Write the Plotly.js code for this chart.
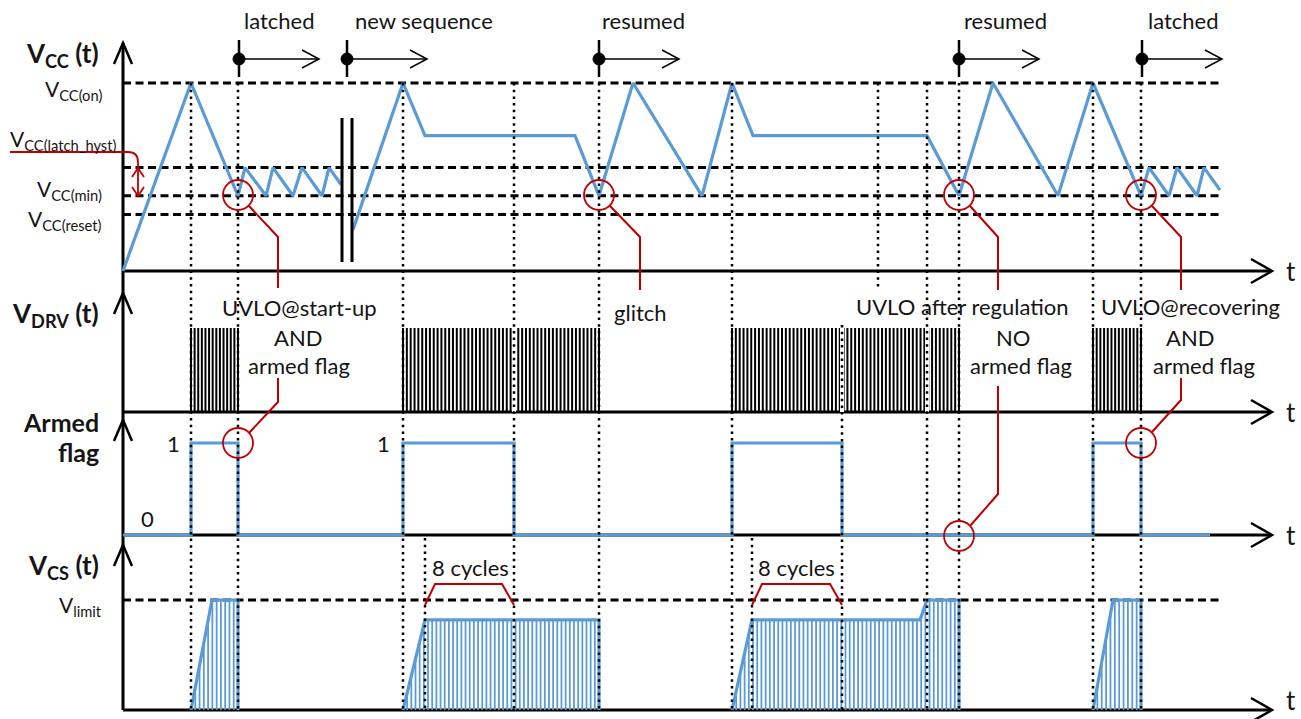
<!DOCTYPE html>
<html><head><meta charset="utf-8">
<script src="https://cdn.plot.ly/plotly-3.0.1.min.js"></script>
<style>html,body{margin:0;padding:0;background:#fff}#chart{width:1301px;height:719px}</style>
</head><body><div id="chart"></div>
<script>
// ================= DATA =================
// V_CC threshold levels (normalised volts)
const vccLevelLabels = ['V<sub>CC(on)</sub>', 'V<sub>CC(latch_hyst)</sub>', 'V<sub>CC(min)</sub>', 'V<sub>CC(reset)</sub>'];
const vccLevels = [10, 5.5, 4, 3];
// V_CC(t) waveform (time units, volts); null = axis break
const vccT = [0,68,115,122,143,150,170,179,199,206,218,null,230,280,302,452,476,510,579,609,630,804,836,870,935,970,1018,1026,1046,1054,1074,1081,1097];
const vccV = [0,10,4,5.5,4,5.5,4,5.5,4,5.5,4.6,null,2.2,10,7.2,7.2,4,10,4,10,7.2,7.2,4,10,4,10,4,5.5,4,5.5,4,5.5,4.3];
// V_DRV(t) switching bursts
const drvStart  = [68, 280, 609, 970];
const drvEnd    = [115, 476, 836, 1018];
const drvPulses = [14, 52, 60, 14];
// Armed flag (0/1)
const armedT = [0,68,68,115,115,280,280,391,391,609,609,719,719,970,970,1018,1018,1087];
const armedV = [0,0,1,1,0,0,1,1,0,0,1,1,0,0,1,1,0,0];
// V_CS(t) peak envelopes per burst (V_limit = 1)
const csEnvT = [[68,89,115],[280,302,476],[609,629,797,804,836],[970,990,1018]];
const csEnvV = [[0,1,1],[0,0.82,0.82],[0,0.82,0.82,1,1],[0,1,1]];
const csCycles = [11, 47, 54, 11];
const vLimit = 1;
// time markers
const guideT = [68,115,280,391,476,609,755,719,804,836,970,1018];
const cycleMarkT = [302, 629];
const eventLabels = ['latched','new sequence','resumed','resumed','latched'];
const eventT = [116, 224, 476, 836, 1019];

// ================= LAYOUT HELPERS =================
const W = 1301, H = 719, T0 = 123;
const BLUE = '#5B9BD5', RED = '#C00000', INK = '#151515';
const FONT = 'Lato, "Open Sans", sans-serif';
function rng(py0, k) { return [-(H - py0) / k, py0 / k]; }

const DASH = {color:'#000', width:3, dash:'8px,4.5px'};
const traces = [];
// dashed level lines
vccLevels.forEach(lv => traces.push({x:[0,1099], y:[lv,lv], xaxis:'x', yaxis:'y', mode:'lines', line:DASH, hoverinfo:'skip'}));
traces.push({x:vccT, y:vccV, xaxis:'x', yaxis:'y', mode:'lines', line:{color:BLUE, width:3.2}, connectgaps:false, hoverinfo:'skip'});

// V_DRV pulses
{
  const xs = [], ys = [];
  drvStart.forEach((s, i) => {
    const n = drvPulses[i], step = (drvEnd[i] - s) / (n - 1);
    for (let j = 0; j < n; j++) { const t = s + j * step; xs.push(t, t, null); ys.push(0, 1, null); }
  });
  traces.push({x:xs, y:ys, xaxis:'x', yaxis:'y2', mode:'lines', line:{color:'#000', width:2}, hoverinfo:'skip'});
}
// Armed flag
traces.push({x:armedT, y:armedV, xaxis:'x', yaxis:'y3', mode:'lines', line:{color:BLUE, width:3.2}, hoverinfo:'skip'});

// V_CS
traces.push({x:[0,1099], y:[vLimit,vLimit], xaxis:'x', yaxis:'y4', mode:'lines', line:DASH, hoverinfo:'skip'});
function interp(ts, vs, t) {
  for (let i = 0; i < ts.length - 1; i++) if (t >= ts[i] && t <= ts[i+1]) return vs[i] + (vs[i+1]-vs[i]) * (t - ts[i]) / (ts[i+1] - ts[i]);
  return vs[vs.length-1];
}
{
  const xs = [], ys = [], ex = [], ey = [];
  csEnvT.forEach((ts, i) => {
    const vs = csEnvV[i], n = csCycles[i], s = ts[0], e = ts[ts.length-1], step = (e - s) / n;
    for (let j = 1; j <= n; j++) { const t = s + j * step; xs.push(t, t, null); ys.push(0, interp(ts, vs, t), null); }
    ts.forEach((t, k) => { ex.push(t); ey.push(vs[k]); });
    ex.push(e, null); ey.push(0, null);
  });
  traces.push({x:xs, y:ys, xaxis:'x', yaxis:'y4', mode:'lines', line:{color:BLUE, width:1.8}, hoverinfo:'skip'});
  traces.push({x:ex, y:ey, xaxis:'x', yaxis:'y4', mode:'lines', line:{color:BLUE, width:3.2}, hoverinfo:'skip'});
}
traces.push({x:[0], y:[0], xaxis:'x2', yaxis:'y5', mode:'markers', marker:{opacity:0}, hoverinfo:'skip'});

// ================= SHAPES (pixel space: x2 / y5) =================
const shapes = [];
const L = (x0,y0,x1,y1,color,width,layer,dash) => shapes.push({type:'line', xref:'x2', yref:'y5', x0,y0,x1,y1, layer:layer||'below', line:{color, width, dash:dash||'solid'}});
const P = (path,color,width,layer) => shapes.push({type:'path', xref:'x2', yref:'y5', path, layer:layer||'above', line:{color, width}});
const C = (cx,cy,r,color,width,fill) => shapes.push({type:'circle', xref:'x2', yref:'y5', x0:cx-r, y0:cy-r, x1:cx+r, y1:cy+r, layer:'above', line:{color, width}, fillcolor:fill||'rgba(0,0,0,0)'});
// axes
L(123,43,123,710,'#000',3);
[271,412,535,710].forEach(y => { L(123,y,1270,y,'#000',3); P(`M 1251 ${y-12} L 1272 ${y} L 1251 ${y+12}`,'#000',2.5,'below'); });
[43,293,420,545].forEach(y => P(`M 114 ${y+21} L 123 ${y} L 132 ${y+21}`,'#000',2.5,'below'));
// break
L(342,118,342,262,'#000',3,'above'); L(352,118,352,262,'#000',3,'above');
// white gaps where guides cross dense bursts
[391,719,804].forEach(t => shapes.push({type:'line', xref:'x', yref:'y5', x0:t, x1:t, y0:328, y1:412, layer:'above', line:{color:'#fff', width:4}}));
// dotted guides
const DOT = {color:'#000', width:2.5, dash:'2.5px,4.2px'};
guideT.forEach(t => {
  let y0 = 83, y1 = 710;
  if (t === 755) y1 = 290;
  if (t === 719) y0 = 325;
  shapes.push({type:'line', xref:'x', yref:'y5', x0:t, x1:t, y0, y1, layer:'above', line:DOT});
});
cycleMarkT.forEach(t => shapes.push({type:'line', xref:'x', yref:'y5', x0:t, x1:t, y0:538, y1:710, layer:'above', line:DOT}));
// event markers on top
eventT.forEach(t => {
  const x = t + T0;
  L(x,40,x,77,'#000',2.5,'above');
  L(x,59,x+80,59,'#000',1.5,'above');
  P(`M ${x+63} 50 L ${x+80} 59 L ${x+63} 68`,'#000',1.5);
  C(x,59,6,'#000',1,'#000');
});
// red annotations
P('M 10 152 L 128 152 Q 138 152 138 162 L 138 196',RED,1.8);
P('M 132 177 L 138 168 L 144 177',RED,1.8);
P('M 132 187 L 138 196 L 144 187',RED,1.8);
[[238,195],[599,195],[959,195],[1141,195],[238,443],[1141,443],[959,536]].forEach(c => C(c[0],c[1],15,RED,1.8));
P('M 249 206 L 278 237 L 278 288',RED,2);
P('M 278 378 L 278 402 L 249 433',RED,2);
P('M 610 206 L 640 237 L 640 290',RED,2);
P('M 970 206 L 998 237 L 998 290',RED,2);
P('M 998 386 L 998 494 L 970 526',RED,2);
P('M 1152 206 L 1181 237 L 1181 290',RED,2);
P('M 1181 378 L 1181 400 L 1152 432',RED,2);
P('M 425 605 L 435 584 L 502 584 L 514 605',RED,2);
P('M 752 605 L 762 584 L 830 584 L 842 605',RED,2);

// ================= ANNOTATIONS =================
const ann = [];
const A = (text,x,y,size,xanchor) => ann.push({text, x, y, xref:'x2', yref:'y5', showarrow:false, xanchor:xanchor||'center', yanchor:'middle', font:{family:FONT, size, color:INK}});
const eventCentres = [279,424,643,1005,1183];
eventLabels.forEach((s,i) => A(s, eventCentres[i], 20, 22));
A('<b>V<sub>CC</sub> (t)</b>',101,54,26,'right');
A('<b>V<sub>DRV</sub> (t)</b>',101,314,26,'right');
A('<b>Armed</b>',101,422,25,'right');
A('<b>flag</b>',101,452,25,'right');
A('<b>V<sub>CS</sub> (t)</b>',101,566,26,'right');
const levelY = [90,140,190,220];
vccLevelLabels.forEach((s,i) => A(s, i===1?118:104, levelY[i], 21, 'right'));
A('V<sub>limit</sub>',104,606,21,'right');
[271,412,535,700].forEach(y => A('t',1291,y,26));
A('0',147,518,22); A('1',173,443,22); A('1',383,443,22);
A('8 cycles',470,567,22); A('8 cycles',796,567,22);
A('UVLO@start-up',299,307,22); A('AND',298,337,22); A('armed flag',299,365,22);
A('glitch',640,312,22);
A('UVLO after regulation',962,306,22); A('NO',1013,337,22); A('armed flag',1021,365,22);
A('UVLO@recovering',1190,306,22); A('AND',1190,337,22); A('armed flag',1204,365,22);

const ax = (extra) => Object.assign({visible:false, showgrid:false, zeroline:false, fixedrange:true, autorange:false}, extra);
const layout = {
  width:W, height:H, margin:{l:0,r:0,t:0,b:0}, paper_bgcolor:'#fff', plot_bgcolor:'#fff', showlegend:false,
  font:{family:FONT},
  xaxis: ax({range:[-T0, W - T0]}),
  xaxis2: ax({range:[0, W], overlaying:'x'}),
  yaxis: ax({range:rng(271, 18.8)}),
  yaxis2: ax({range:rng(412, 84), overlaying:'y'}),
  yaxis3: ax({range:rng(535, 92), overlaying:'y'}),
  yaxis4: ax({range:rng(710, 110), overlaying:'y'}),
  yaxis5: ax({range:[H, 0], overlaying:'y'}),
  shapes, annotations: ann
};
Plotly.newPlot('chart', traces, layout, {staticPlot:true, displayModeBar:false});
</script></body></html>
